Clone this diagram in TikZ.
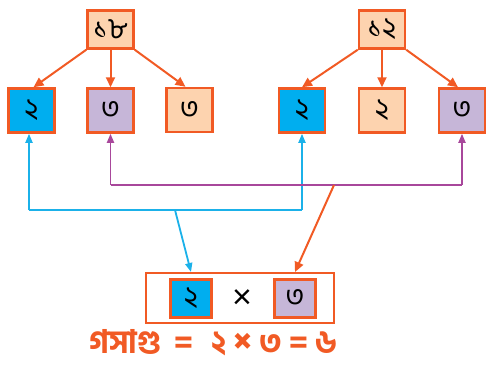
\documentclass[tikz,border=0pt]{standalone}
\usepackage{fontspec}
\setmainfont{Liberation Sans}
\newfontfamily\bn[Script=Bengali]{Hind Siliguri}
\newfontfamily\bnb[Script=Bengali]{Hind Siliguri Bold}
\usetikzlibrary{arrows.meta}
\definecolor{org}{HTML}{F15A24}
\definecolor{peach}{HTML}{FDD3AF}
\definecolor{sky}{HTML}{00AEEF}
\definecolor{lav}{HTML}{C6B6D8}
\definecolor{plum}{HTML}{A8479B}
\definecolor{skyl}{HTML}{1BB1E9}
\begin{document}
\begin{tikzpicture}[x=1pt,y=-1pt,
  digit/.style={font=\bn\fontsize{29}{29}\selectfont},
  topbox/.style={digit,draw=org,line width=2.5pt,fill=peach,minimum width=46pt,minimum height=38pt,inner sep=0pt},
  rowbox/.style={digit,draw=org,line width=2.5pt,minimum width=46pt,minimum height=44pt,inner sep=0pt},
  smallbox/.style={digit,draw=org,line width=2.5pt,minimum width=41pt,minimum height=38pt,inner sep=0pt},
  oarrow/.style={draw=org,line width=2pt,-{Triangle[width=9pt,length=10pt]}},
  blink/.style={draw=skyl,line width=1.8pt},
  plink/.style={draw=plum,line width=1.8pt},
  btip/.style={-{Triangle[width=7pt,length=9pt]}},
]
\useasboundingbox (0,0) rectangle (487,365);
% top row
\node[topbox] (t1) at (110.5,29.5) {১৮};
\node[topbox] (t2) at (382,29.5) {১২};
% second row
\node[rowbox,fill=sky] (a) at (31.5,110.5) {২};
\node[rowbox,fill=lav] (b) at (110.5,110.5) {৩};
\node[rowbox,fill=peach] (c) at (189.5,110) {৩};
\node[rowbox,fill=sky] (d) at (302,110.5) {২};
\node[rowbox,fill=peach] (e) at (382,110.5) {২};
\node[rowbox,fill=lav] (f) at (462,110.5) {৩};
% tree arrows
\draw[oarrow] (t1.south west) -- ([xshift=2pt]a.north);
\draw[oarrow] (t1.south) -- (b.north);
\draw[oarrow] (t1.south east) -- ([xshift=-4pt]c.north);
\draw[oarrow] (t2.south west) -- (d.north);
\draw[oarrow] (t2.south) -- (e.north);
\draw[oarrow] (t2.south east) -- ([xshift=-4pt]f.north);
% bottom box
\node[draw=org,line width=2pt,minimum width=188pt,minimum height=50pt] (box) at (240,298) {};
\node[smallbox,fill=sky] (p) at (191,298.5) {২};
\node[inner sep=0pt,font=\fontsize{34}{34}\selectfont] (x) at (242,299) {×};
\node[smallbox,fill=lav] (q) at (295,298.5) {৩};
% blue link
\coordinate (bl) at (29,210);
\coordinate (br) at (302,210);
\coordinate (bm) at (175,210);
\draw[blink,btip] (bl) -- ([xshift=-2.5pt]a.south);
\draw[blink,btip] (br) -- (d.south);
\draw[blink] (bl) -- (br);
\draw[blink,btip] (bm) -- (p.north |- box.north);
% purple link
\coordinate (pl) at (110.5,185);
\coordinate (pr) at (462,185);
\coordinate (pm) at (334,185);
\draw[plink,btip] (pl) -- (b.south);
\draw[plink,btip] (pr) -- (f.south);
\draw[plink] (pl) -- (pr);
\draw[oarrow] (pm) -- (q.north |- box.north);
% result
\node[text=org,inner sep=0pt,font=\bnb\fontsize{32}{32}\selectfont] (res) at (213,343) {গসাগু\hspace{13pt}=\hspace{18pt}২\hspace{7pt}{\fontsize{36}{36}\selectfont×}\hspace{7pt}৩\hspace{7pt}=\hspace{7pt}৬};
\end{tikzpicture}
\end{document}
